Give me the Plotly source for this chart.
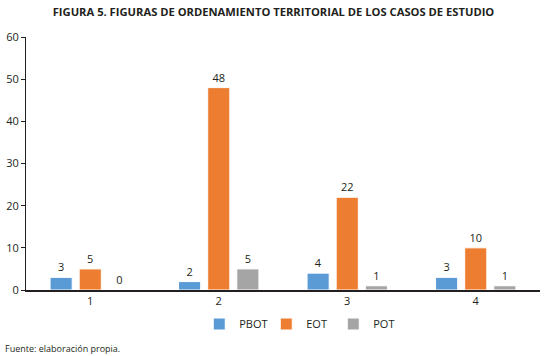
import plotly.graph_objects as go

categories = ["1", "2", "3", "4"]
pbot = [3, 2, 4, 3]
eot = [5, 48, 22, 10]
pot = [0, 5, 1, 1]
series_names = ["PBOT", "EOT", "POT"]
colors = ["#5B9BD5", "#ED7D31", "#A5A5A5"]

fig = go.Figure()
for name, vals, col in zip(series_names, [pbot, eot, pot], colors):
    fig.add_trace(go.Bar(
        x=categories, y=vals, name=name,
        marker=dict(color=col, line=dict(color="white", width=1)),
        text=[str(v) for v in vals], textposition="outside",
        textfont=dict(family="Open Sans", size=11, color="#231F20"),
        cliponaxis=False,
    ))

fig.update_layout(
    width=547, height=356,
    margin=dict(l=26, r=7, t=37, b=66),
    paper_bgcolor="white", plot_bgcolor="white",
    barmode="group", bargap=0.32, bargroupgap=0.24,
    font=dict(family="Open Sans", size=11, color="#231F20"),
    title=dict(text="<b>FIGURA 5. FIGURAS DE ORDENAMIENTO TERRITORIAL DE LOS CASOS DE ESTUDIO</b>",
               x=0.5, xanchor="center", y=1 - 12 / 356, yanchor="middle",
               font=dict(family="Open Sans", size=11.2, color="#231F20")),
    xaxis=dict(showline=True, linecolor="#231F20", linewidth=1.5, ticks="",
               showgrid=False, tickfont=dict(size=11), automargin=False),
    yaxis=dict(range=[0, 60], dtick=10, showline=True, linecolor="#231F20", linewidth=1,
               ticks="outside", ticklen=4, tickcolor="#231F20", showgrid=False,
               zeroline=False, tickfont=dict(size=11), automargin=False),
    legend=dict(orientation="h", x=0.548, xanchor="center", xref="container",
                y=1 - 324 / 356, yanchor="middle", yref="container",
                font=dict(size=11), itemwidth=30, entrywidth=22, traceorder="normal"),
    showlegend=True,
)
fig.add_annotation(text="Fuente: elaboración propia.", xref="paper", yref="paper",
                   x=-23 / 514, y=-58 / 253, xanchor="left", yanchor="middle", showarrow=False,
                   font=dict(family="Open Sans", size=9, color="#231F20"))
fig.write_html("out.html", config={"displayModeBar": False},
               post_script="document.body.style.margin='0';document.body.style.padding='0';")
